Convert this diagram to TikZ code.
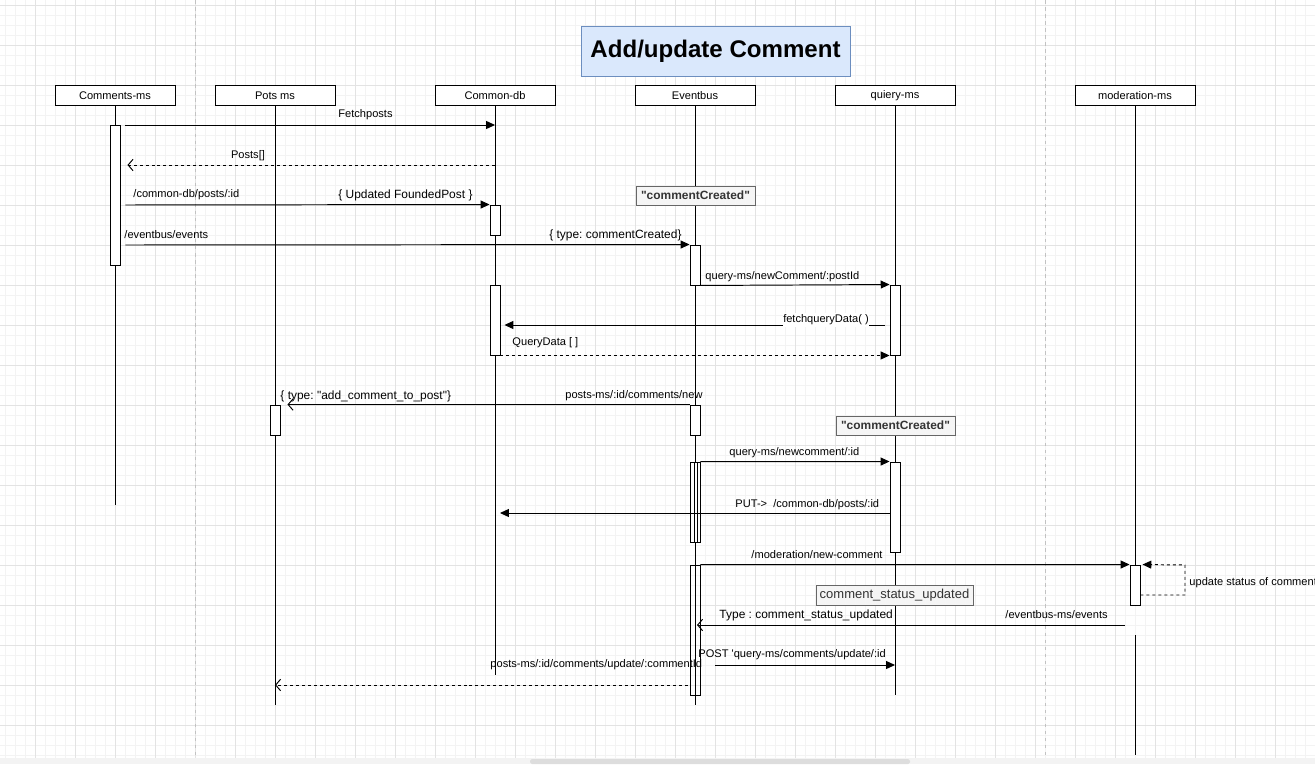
\documentclass[tikz,border=0pt]{standalone}
\usepackage{fontspec}
\setmainfont{Liberation Sans}[Ligatures=TeXOff]
\usepackage{xcolor}
\usepackage{tikz}
\usetikzlibrary{positioning, calc, arrows.meta}

\definecolor{gridminor}{HTML}{F3F3F3}
\definecolor{gridmajor}{HTML}{E3E3E3}
\definecolor{pagebrk}{HTML}{C2C2C2}
\definecolor{titlefill}{HTML}{DAE8FC}
\definecolor{titledraw}{HTML}{6C8EBF}
\definecolor{notefill}{HTML}{F5F5F5}
\definecolor{notedraw}{HTML}{666666}
\definecolor{notetext}{HTML}{333333}
\definecolor{scrollbar}{HTML}{DDDDDD}

\tikzset{every picture/.append style={line width=0.55pt}}
\tikzset{
  head/.style={draw, fill=white, minimum width=2.4cm, minimum height=0.4cm, inner sep=0pt, font=\fontsize{6.3}{7.5}\selectfont},
  act/.style={draw, fill=white, minimum width=0.2cm, inner sep=0pt},
  lbl/.style={inner sep=0pt, font=\fontsize{6.3}{7.5}\selectfont},
  lblbig/.style={inner sep=0pt, font=\fontsize{6.8}{8}\selectfont},
  note/.style={draw=notedraw, fill=notefill, text=notetext, inner sep=0pt, minimum height=0.38cm},
  sync/.style={-{Triangle[length=5pt,width=4.5pt]}},
  async/.style={-{Straight Barb[length=2.8pt,width=6.5pt]}},
  reply/.style={dash pattern=on 1.7pt off 1.7pt, -{Straight Barb[length=2.8pt,width=6.5pt]}},
  dsync/.style={dash pattern=on 1.7pt off 1.7pt, -{Triangle[length=5pt,width=4.5pt]}}
}

\begin{document}
\frenchspacing
\begin{tikzpicture}[x={(0.02cm,0)}, y={(0,-0.02cm)}]
        \useasboundingbox (0,0) rectangle (1315,764);

        % ==========================================
        % BACKGROUND: Grid and page breaks
        % ==========================================
        \fill[white] (0,0) rectangle (1315,764);
        \foreach \gx in {5,15,...,1315} \draw[gridminor, line width=0.4pt] (\gx,0) -- (\gx,758);
        \foreach \gy in {5,15,...,755} \draw[gridminor, line width=0.4pt] (0,\gy) -- (1315,\gy);
        \foreach \gx in {35,75,...,1315} \draw[gridmajor, line width=0.4pt] (\gx,0) -- (\gx,758);
        \foreach \gy in {5,45,...,755} \draw[gridmajor, line width=0.4pt] (0,\gy) -- (1315,\gy);
        \draw[pagebrk, line width=0.4pt, dash pattern=on 2pt off 2pt] (195,0) -- (195,758);
        \draw[pagebrk, line width=0.4pt, dash pattern=on 2pt off 2pt] (1045,0) -- (1045,758);
        \fill[gridminor] (0,758) rectangle (1315,764);
        \fill[scrollbar, rounded corners=1pt] (530,759) rectangle (910,764);

        % ==========================================
        % TITLE AND PARTICIPANTS
        % ==========================================
        \node[draw=titledraw, fill=titlefill, minimum width=5.38cm, minimum height=1cm, font=\bfseries\fontsize{13.7}{16}\selectfont] (title) at (715.5,51) {Add/update Comment};

        \node[head] (cms) at (115,95.5) {Comments-ms};
        \node[head] (pms) at (275,95.5) {Pots ms};
        \node[head] (db)  at (495,95.5) {Common-db};
        \node[head] (eb)  at (695,95.5) {Eventbus};
        \node[head] (qm)  at (895,95.5) {quiery-ms};
        \node[head] (mod) at (1135,95.5) {moderation-ms};

        % 1. Lifelines
        \draw (cms.south) -- (cms |- 0,505);
        \draw (pms.south) -- (pms |- 0,705);
        \draw (db.south)  -- (db |- 0,675);
        \draw (eb.south)  -- (eb |- 0,705);
        \draw (qm.south)  -- (qm |- 0,695);
        \draw (mod.south) -- (mod |- 0,605);
        \draw (mod |- 0,635) -- (mod |- 0,755);

        % 2. Activation bars
        \node[act, minimum height=2.8cm] (a1)  at (115,195) {};
        \node[act, minimum height=0.6cm] (a2)  at (495,220) {};
        \node[act, minimum height=0.8cm] (a3)  at (695,265) {};
        \node[act, minimum height=1.4cm] (a4)  at (895,320) {};
        \node[act, minimum height=1.4cm] (a5)  at (495,320) {};
        \node[act, minimum height=0.6cm] (a6)  at (275,420) {};
        \node[act, minimum height=0.6cm] (a7)  at (695,420) {};
        \node[act, minimum height=1.6cm] (a8)  at (695,502) {};
        \node[act, fill=none, minimum width=0.06cm, minimum height=1.6cm] (a8b) at (695.5,502) {};
        \node[act, minimum height=1.8cm] (a9)  at (895,507) {};
        \node[act, fill=none, minimum height=2.6cm] (a10) at (695,630) {};
        \node[act, minimum height=0.8cm] (a11) at (1135,585) {};

        % 3. Notes
        \node[note, minimum width=2.38cm, font=\bfseries\fontsize{6.8}{8}\selectfont] (n1) at (695.5,195.5) {"commentCreated"};
        \node[note, minimum width=2.38cm, font=\bfseries\fontsize{6.8}{8}\selectfont] (n2) at (895.5,425.5) {"commentCreated"};
        \node[note, minimum width=3.14cm, minimum height=0.4cm, font=\fontsize{7.4}{9}\selectfont] (n3) at (894.5,595) {comment\_status\_updated};

        % ==========================================
        % MESSAGES
        % ==========================================
        \draw[sync, shorten <=0.1cm] (a1.east |- 0,125) -- (db |- 0,125);
        \node[lbl] (l1) at (365.5,115) {Fetchposts};

        \draw[reply] (db |- 0,165) -- ([xshift=0.14cm]a1.east |- 0,165);
        \node[lbl] (l2) at (248,156) {Posts[]};

        \draw[sync, shorten <=0.1cm] (a1.east |- 0,205) -- (a2.north west);
        \node[lbl, anchor=west] (l3a) at (133,195) {/common-db/posts/:id};
        \node[lblbig, anchor=east] (l3b) at (473,195) {\{ Updated FoundedPost \}};

        \draw[sync, shorten <=0.1cm] (a1.east |- 0,245) -- (a3.north west);
        \node[lbl, anchor=west] (l4a) at (124,235) {/eventbus/events};
        \node[lblbig, anchor=east] (l4b) at (682,235) {\{ type: commentCreated\}};

        \draw[sync] (a3.south east) -- (a4.north west);
        \node[lbl, anchor=west] (l5) at (705,277) {query-ms/newComment/:postId};

        \draw[sync, shorten <=0.1cm, shorten >=0.08cm] (a4.west |- 0,325) -- (a5.east |- 0,325);
        \node[lbl, fill=white, inner ysep=1pt] (l6) at (826,320) {fetchqueryData(\ )};

        \draw[dsync] (a5.south east) -- (a4.south west);
        \node[lbl, anchor=west] (l7) at (512,343) {QueryData [ ]};

        \draw[async] (a7.north west) -- ([xshift=0.14cm]a6.north east);
        \node[lblbig, anchor=west] (l8a) at (280,396) {\{ type: "add\_comment\_to\_post"\}};
        \node[lbl, anchor=east] (l8b) at (703,396) {posts-ms/:id/comments/new};

        \draw[sync] (a8.north east) -- (a9.north west);
        \node[lbl, anchor=west] (l9) at (729,453) {query-ms/newcomment/:id};

        \draw[sync, shorten >=0.1cm] (a9.west |- 0,513) -- (db |- 0,513);
        \node[lbl, anchor=west] (l10) at (735,505) {PUT->\ \ /common-db/posts/:id};

        \draw[sync] (a10.north east) -- (a11.north west);
        \node[lbl, anchor=west] (l11) at (751,555) {/moderation/new-comment};

        % 4. Self call on moderation-ms
        \coordinate (selfb) at (1185,595);
        \coordinate (selft) at (1185,565);
        \draw[dsync, shorten >=0.04cm] (a11.east |- selfb) -- (selfb) -- (selft) -- (a11.north east);
        \node[lbl, anchor=west] (l12) at (1189,583) {update status of comment};

        \draw[async] (mod |- 0,625) ++(-10,0) -- ([xshift=0.04cm]eb |- 0,625);
        \node[lblbig, anchor=west] (l13a) at (719,615) {Type : comment\_status\_updated};
        \node[lbl, anchor=west] (l13b) at (1005,615) {/eventbus-ms/events};

        \draw[sync, shorten <=0.3cm] (a10.east |- 0,665) -- (qm |- 0,665);
        \node[lbl, anchor=west] (l14) at (698,655) {POST 'query-ms/comments/update/:id};

        \draw[reply] ([xshift=-0.04cm]a10.west |- 0,685) -- (pms |- 0,685);
        \node[lbl, anchor=west] (l15) at (490,665) {posts-ms/:id/comments/update/:commentId};

    \end{tikzpicture}
\end{document}
